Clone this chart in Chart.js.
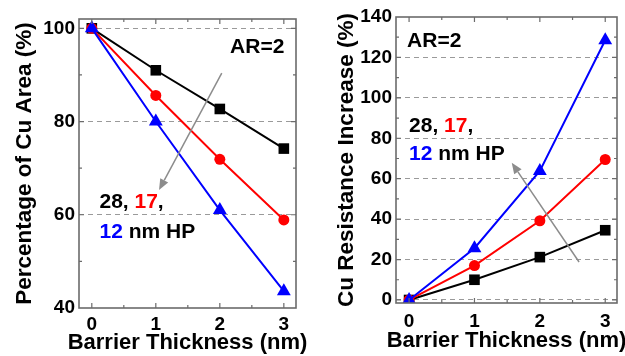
<!DOCTYPE html>
<html>
<head>
<meta charset="utf-8">
<script src="https://cdn.jsdelivr.net/npm/chart.js@4/dist/chart.umd.min.js"></script>
<style>
  html, body { margin: 0; padding: 0; background: #fff; }
  .panel { position: absolute; top: 0; }
</style>
</head>
<body>
<div class="panel" style="left:0"><canvas id="areaChart" width="312" height="356"></canvas></div>
<div class="panel" style="left:312px"><canvas id="resChart" width="313" height="356"></canvas></div>
<script>
// barrier thickness (nm)
const thickness = [0, 1, 2, 3];
const xTicks = [0, 1, 2, 3];

// percentage of Cu area (%)
const area28 = [100, 91, 82.7, 74.2];
const area17 = [100, 85.6, 71.9, 58.9];
const area12 = [100, 80, 61, 43.6];
const areaTicks = [40, 60, 80, 100];

// Cu resistance increase (%)
const res28 = [0, 10, 21.2, 34.5];
const res17 = [0, 17, 39.2, 69.5];
const res12 = [0, 25.6, 63.8, 128.5];
const resTicks = [0, 20, 40, 60, 80, 100, 120, 140];

const FONT = '"Liberation Sans", Arial, sans-serif';
const BLACK = '#000000', RED = '#ff0000', BLUE = '#0000ff';

function series(values) {
    return values.map((v, i) => ({ x: thickness[i], y: v }));
}

function datasets(s28, s17, s12) {
    const base = { borderWidth: 2, pointBorderWidth: 0, tension: 0 };
    return [
        Object.assign({}, base, { label: '28 nm', data: series(s28), borderColor: BLACK, pointBackgroundColor: BLACK, pointStyle: 'rect', pointRadius: 7.5, order: 3 }),
        Object.assign({}, base, { label: '17 nm', data: series(s17), borderColor: RED, pointBackgroundColor: RED, pointStyle: 'circle', pointRadius: 5.5, order: 2 }),
        Object.assign({}, base, { label: '12 nm', data: series(s12), borderColor: BLUE, pointBackgroundColor: BLUE, pointStyle: 'triangle', pointRadius: 8, order: 1 })
    ];
}

// frame, inward ticks on all four sides, axis titles, notes and the gray arrow
function decor(cfg) {
    return {
        id: 'decor',
        afterDraw(chart) {
            const { ctx, chartArea: a, scales: { x, y } } = chart;
            ctx.save();
            ctx.strokeStyle = '#6b6b6b';
            ctx.lineWidth = 1.2;
            const step = xTicks[1] - xTicks[0];
            const xs = [];
            xTicks.forEach(v => { xs.push([v, 5]); xs.push([v + step / 2, 3]); });
            const ys = [];
            const ystep = cfg.yTicks[1] - cfg.yTicks[0];
            cfg.yTicks.forEach(v => { ys.push([v, 5]); ys.push([v + ystep / 2, 3]); });
            ctx.beginPath();
            xs.forEach(([v, len]) => {
                const px = x.getPixelForValue(v);
                if (px <= a.left || px >= a.right) return;
                ctx.moveTo(px, a.bottom); ctx.lineTo(px, a.bottom - len);
                ctx.moveTo(px, a.top); ctx.lineTo(px, a.top + len);
            });
            ys.forEach(([v, len]) => {
                const py = y.getPixelForValue(v);
                if (py <= a.top || py >= a.bottom) return;
                ctx.moveTo(a.left, py); ctx.lineTo(a.left + len, py);
                ctx.moveTo(a.right, py); ctx.lineTo(a.right - len, py);
            });
            ctx.stroke();
            ctx.lineWidth = 1.6;
            ctx.strokeRect(a.left, a.top, a.right - a.left, a.bottom - a.top);

            // axis titles (drawn here so they are not squeezed to the axis length)
            ctx.fillStyle = '#000';
            ctx.textAlign = 'center';
            ctx.textBaseline = 'middle';
            ctx.font = 'bold 22px ' + FONT;
            ctx.fillText('Barrier Thickness (nm)', (a.left + a.right) / 2, cfg.xTitleY);
            ctx.save();
            ctx.translate(cfg.yTitleX, (a.top + a.bottom) / 2);
            ctx.rotate(-Math.PI / 2);
            ctx.font = 'bold 22.5px ' + FONT;
            ctx.fillText(cfg.yTitle, 0, 0);
            ctx.restore();

            // arrow
            const [ax1, ay1, ax2, ay2] = cfg.arrow;
            const x1 = x.getPixelForValue(ax1), y1 = y.getPixelForValue(ay1);
            const x2 = x.getPixelForValue(ax2), y2 = y.getPixelForValue(ay2);
            const ang = Math.atan2(y2 - y1, x2 - x1);
            const head = 11, half = 4.5;
            ctx.strokeStyle = '#8c8c8c';
            ctx.fillStyle = '#8c8c8c';
            ctx.lineWidth = 1.5;
            ctx.beginPath();
            ctx.moveTo(x1, y1);
            ctx.lineTo(x2 - Math.cos(ang) * head, y2 - Math.sin(ang) * head);
            ctx.stroke();
            ctx.beginPath();
            ctx.moveTo(x2, y2);
            ctx.lineTo(x2 - Math.cos(ang) * head - Math.sin(ang) * half, y2 - Math.sin(ang) * head + Math.cos(ang) * half);
            ctx.lineTo(x2 - Math.cos(ang) * head + Math.sin(ang) * half, y2 - Math.sin(ang) * head - Math.cos(ang) * half);
            ctx.closePath();
            ctx.fill();

            // notes
            ctx.font = 'bold 21px ' + FONT;
            ctx.textBaseline = 'middle';
            ctx.textAlign = 'left';
            cfg.notes.forEach(n => {
                let px = x.getPixelForValue(n.x);
                const py = y.getPixelForValue(n.y);
                n.parts.forEach(([txt, col]) => {
                    ctx.fillStyle = col;
                    ctx.fillText(txt, px, py);
                    px += ctx.measureText(txt).width;
                });
            });
            ctx.restore();
        }
    };
}

function makeChart(id, cfg) {
    return new Chart(document.getElementById(id).getContext('2d'), {
        type: 'line',
        data: { datasets: cfg.datasets },
        options: {
            responsive: false,
            animation: false,
            layout: { padding: cfg.padding },
            scales: {
                x: {
                    type: 'linear',
                    min: -0.2, max: cfg.xMax,
                    afterBuildTicks: s => { s.ticks = xTicks.map(v => ({ value: v })); },
                    afterFit: s => { s.height = cfg.xHeight; },
                    grid: { display: false, drawTicks: false },
                    border: { display: false },
                    ticks: { color: '#000', padding: cfg.xTickPad, font: { family: FONT, size: 19, weight: 'bold' } }
                },
                y: {
                    min: cfg.yMin, max: cfg.yMax,
                    afterBuildTicks: s => { s.ticks = cfg.yTicks.map(v => ({ value: v })); },
                    afterFit: s => { s.width = cfg.yWidth; },
                    grid: {
                        drawTicks: false, lineWidth: 1,
                        color: c => (c.tick && cfg.gridVals.includes(c.tick.value)) ? '#9a9a9a' : 'rgba(0,0,0,0)'
                    },
                    border: { display: false, dash: [5, 4] },
                    ticks: { color: '#000', padding: 4, font: { family: FONT, size: 19, weight: 'bold' } }
                }
            },
            plugins: { legend: { display: false }, tooltip: { enabled: false } }
        },
        plugins: [decor(cfg)]
    });
}

const areaChart = makeChart('areaChart', {
    datasets: datasets(area28, area17, area12),
    padding: { top: 19, right: 16, bottom: 0, left: 0 },
    xMax: 3.19, xHeight: 48, xTickPad: 5, xTitleY: 343,
    yMin: 40, yMax: 102, yTicks: areaTicks, gridVals: [60, 80, 100],
    yWidth: 79, yTitleX: 25,
    yTitle: 'Percentage of Cu Area (%)',
    arrow: [2.03, 90.4, 1.05, 65.3],
    notes: [
        { x: 2.16, y: 95.9, parts: [['AR=2', BLACK]] },
        { x: 0.12, y: 62.7, parts: [['28, ', BLACK], ['17', RED], [',', BLACK]] },
        { x: 0.12, y: 56.3, parts: [['12', BLUE], [' nm HP', BLACK]] }
    ]
});

const resChart = makeChart('resChart', {
    datasets: datasets(res28, res17, res12),
    padding: { top: 17, right: 8, bottom: 0, left: 0 },
    xMax: 3.18, xHeight: 53, xTickPad: 7, xTitleY: 341,
    yMin: -1.5, yMax: 140, yTicks: resTicks, gridVals: [0, 20, 40, 60, 80, 100, 120],
    yWidth: 84, yTitleX: 35,
    yTitle: 'Cu Resistance Increase (%)',
    arrow: [2.6, 18.8, 1.57, 67.9],
    notes: [
        { x: -0.03, y: 128, parts: [['AR=2', BLACK]] },
        { x: 0.0, y: 85.8, parts: [['28, ', BLACK], ['17', RED], [',', BLACK]] },
        { x: 0.0, y: 71.9, parts: [['12', BLUE], [' nm HP', BLACK]] }
    ]
});
</script>
</body>
</html>
